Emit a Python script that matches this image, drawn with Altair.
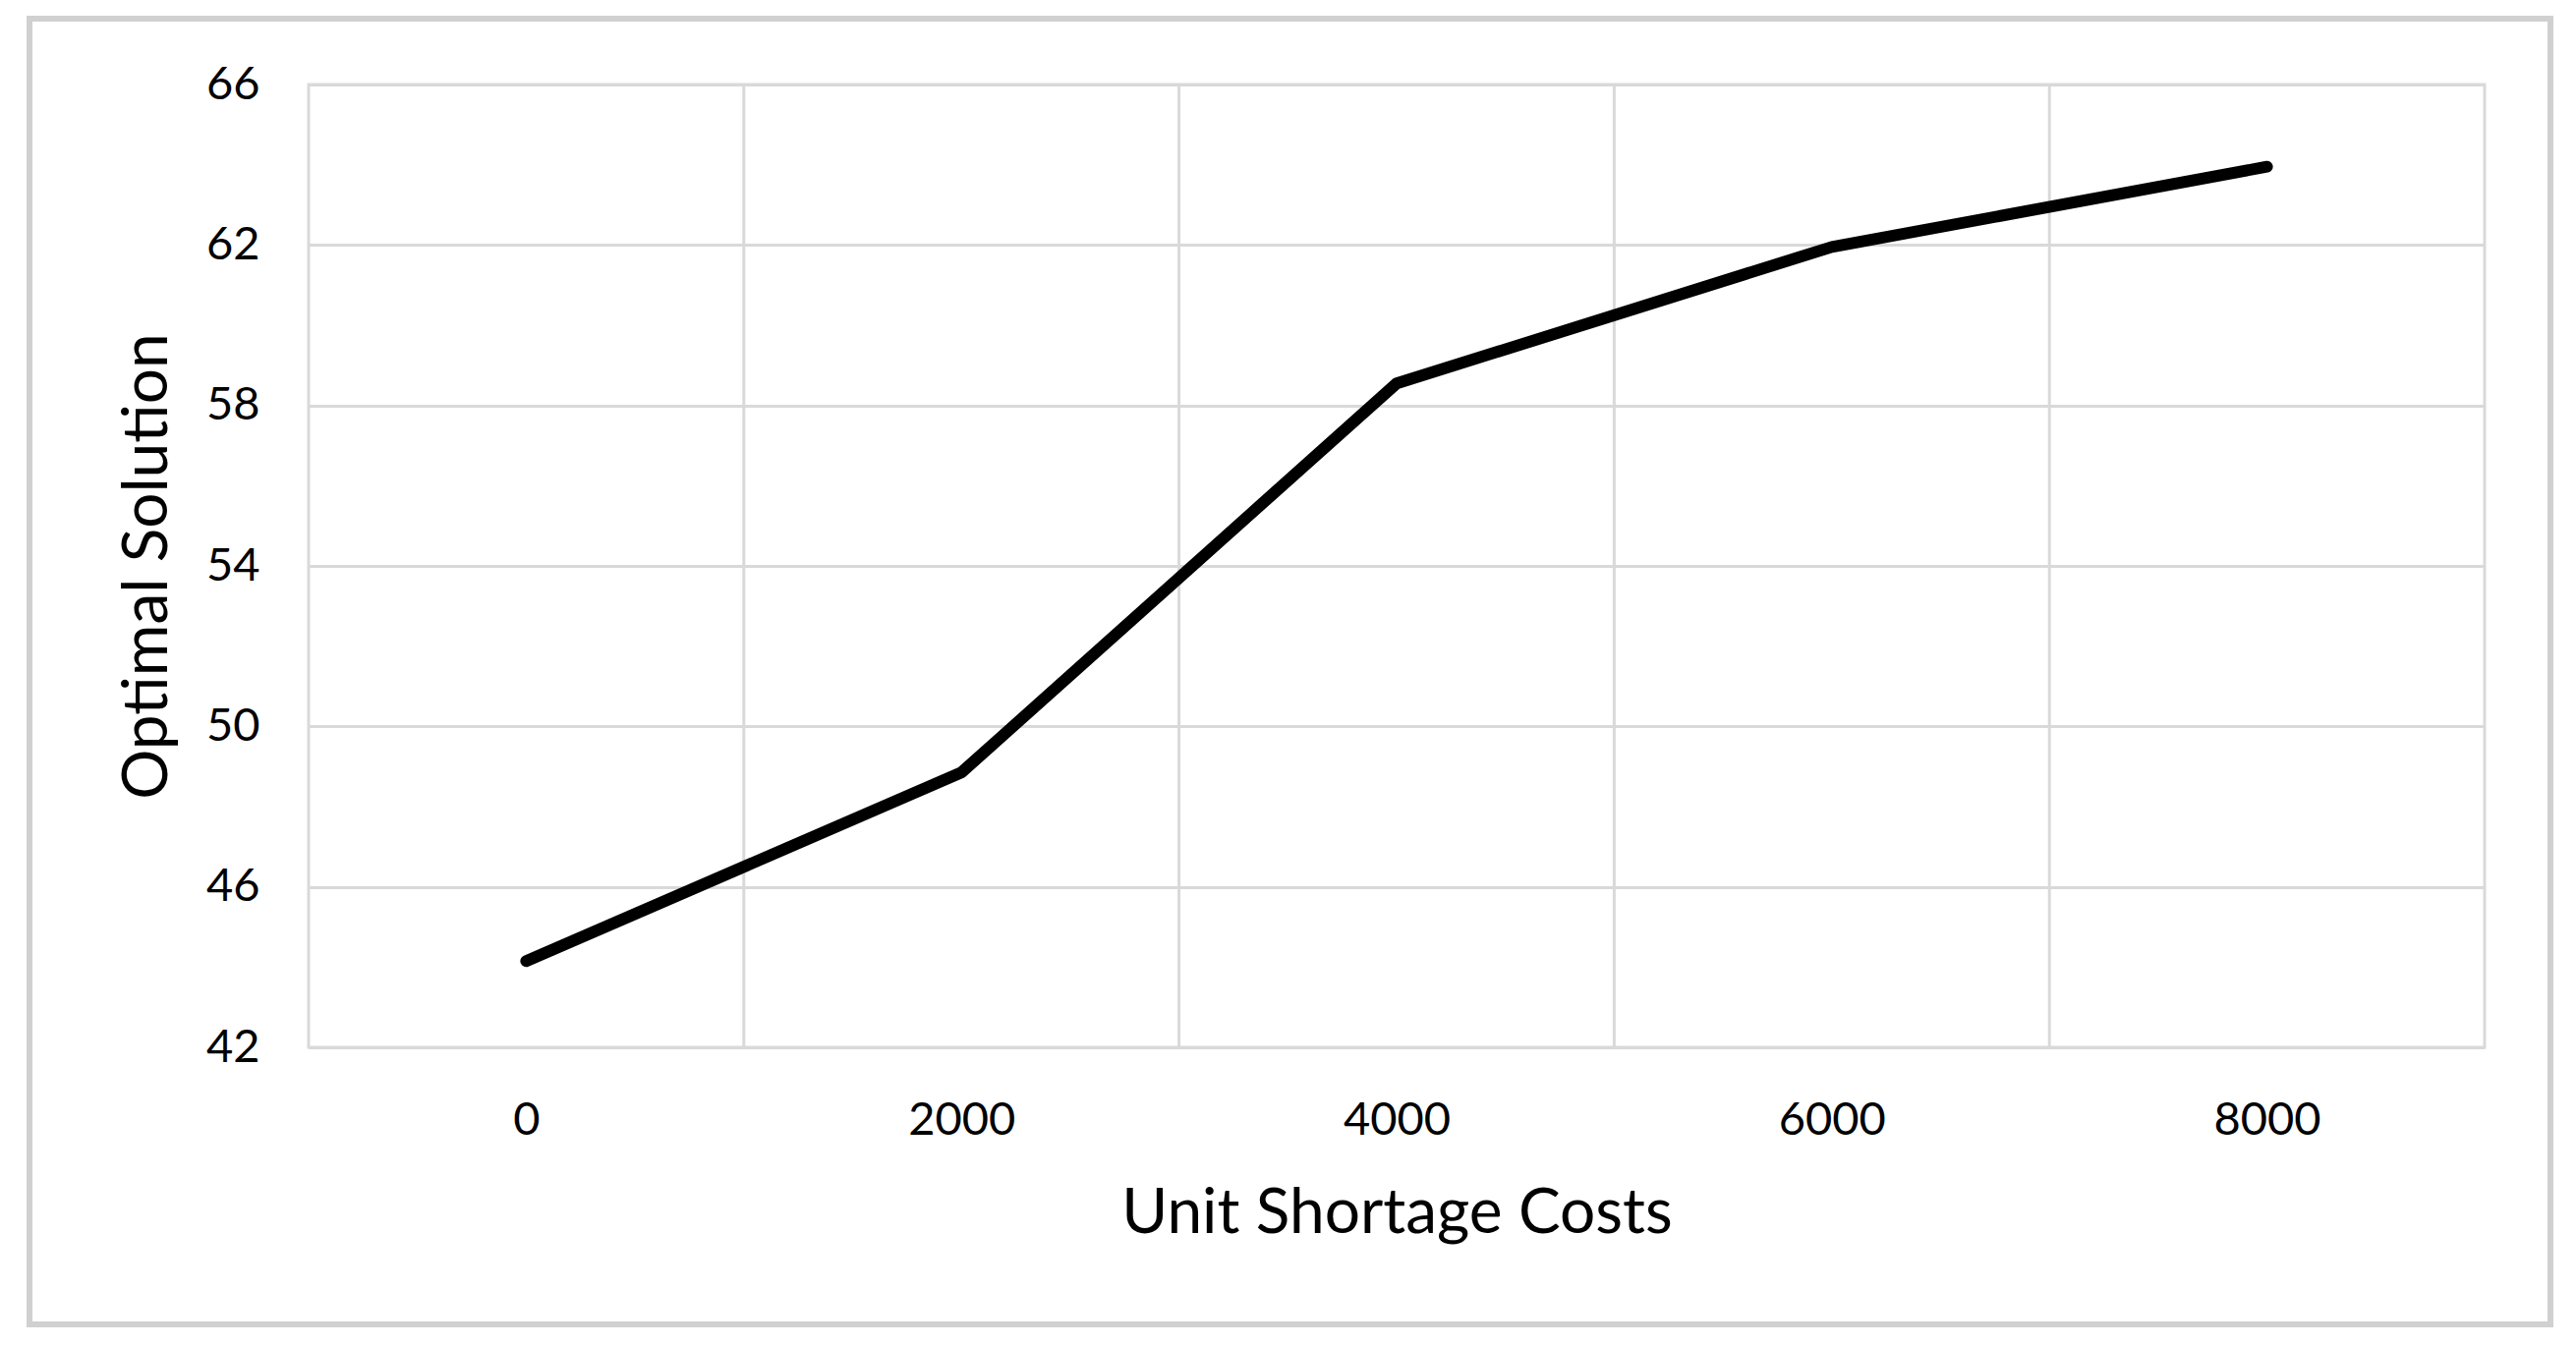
import altair as alt
import pandas as pd

# Data
costs = [0, 2000, 4000, 6000, 8000]
solution = [44.15, 48.85, 58.55, 61.95, 63.95]
y_ticks = [42, 46, 50, 54, 58, 62, 66]
# category boundaries (Excel-style category axis gridlines between categories)
boundaries = [1000, 3000, 5000, 7000]

FONT = "Lato"
GRID = "#d9d9d9"
W, H = 2214, 980

df = pd.DataFrame({"cost": costs, "value": solution})
bdf = pd.DataFrame({"b": boundaries})

x_scale = alt.Scale(domain=[-1000, 9000], nice=False, zero=False)
y_scale = alt.Scale(domain=[42, 66], nice=False, zero=False)

x_axis = alt.Axis(
    values=costs, format="d", grid=False, ticks=False, tickSize=0,
    domain=False, labelFont=FONT, labelFontSize=47, labelColor="black",
    labelBaseline="middle", labelPadding=74, labelFlush=False,
    title="Unit Shortage Costs", titleFont=FONT, titleFontSize=64,
    titleFontWeight="normal", titleColor="black",
    titleX=W / 2, titleY=169, titleBaseline="middle", titleAlign="center",
)

frame = alt.Chart(pd.DataFrame({"k": [0]})).mark_rect(
    filled=False, stroke="#d0d0d0", strokeWidth=6
).encode(
    x=alt.value(-284), x2=alt.value(2281), y=alt.value(-67), y2=alt.value(1262)
)

vgrid = alt.Chart(bdf).mark_rule(color=GRID, strokeWidth=3).encode(
    x=alt.X("b:Q", scale=x_scale, axis=x_axis, title="Unit Shortage Costs")
)

line = alt.Chart(df).mark_line(
    color="black", strokeWidth=12, strokeCap="round", strokeJoin="round"
).encode(
    x=alt.X("cost:Q", scale=x_scale, axis=x_axis, title="Unit Shortage Costs"),
    y=alt.Y(
        "value:Q",
        scale=y_scale,
        axis=alt.Axis(
            values=y_ticks, grid=True, gridColor=GRID, gridWidth=3,
            ticks=False, tickSize=0, domain=False,
            labelFont=FONT, labelFontSize=47, labelColor="black",
            labelPadding=50, labelFlush=False,
            title="Optimal Solution", titleFont=FONT, titleFontSize=64,
            titleFontWeight="normal", titleColor="black",
            titleX=-164, titleY=H / 2, titleAngle=270,
            titleBaseline="middle", titleAlign="center",
        ),
    ),
)

chart = alt.layer(frame, vgrid, line).properties(
    width=W, height=H,
    padding={"left": 19, "top": 8, "right": 0, "bottom": 0},
    background="white",
).configure_view(stroke=GRID, strokeWidth=3)

chart.save("out.html", embed_options={"renderer": "svg", "actions": False})
